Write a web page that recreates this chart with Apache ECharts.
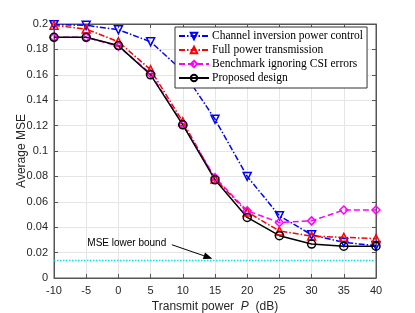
<!DOCTYPE html>
<html><head><meta charset="utf-8">
<script src="https://cdn.jsdelivr.net/npm/echarts@6/dist/echarts.min.js"></script>
<style>html,body{margin:0;padding:0;background:#fff}#c{width:415px;height:313px}</style>
</head><body><div id="c"></div>
<script>
const powerDb = [-10, -5, 0, 5, 10, 15, 20, 25, 30, 35, 40];
const channelInversion = [0.1995, 0.199, 0.1955, 0.186, 0.163, 0.125, 0.080, 0.049, 0.034, 0.028, 0.0255];
const fullPower = [0.199, 0.196, 0.186, 0.164, 0.123, 0.078, 0.052, 0.037, 0.033, 0.032, 0.031];
const benchmark = [0.1895, 0.1895, 0.1825, 0.161, 0.121, 0.079, 0.053, 0.0437, 0.045, 0.0535, 0.0535];
const proposed = [0.1895, 0.1895, 0.183, 0.160, 0.1206, 0.0773, 0.0477, 0.0333, 0.0267, 0.025, 0.025];
const lowerBound = 0.0138;
const seriesNames = ['Channel inversion power control', 'Full power transmission', 'Benchmark ignoring CSI errors', 'Proposed design'];
const annotationText = 'MSE lower bound';

const pairs = arr => powerDb.map((x, i) => [x, arr[i]]);
const axisColor = '#555';
const sans = 'Liberation Sans';
const chart = echarts.init(document.getElementById('c'));
const hidden = {show: false};
function mk(name, data, color, symbol, rot, dash) {
  return {
    name, type: 'line', data: pairs(data), symbol, symbolSize: 8, symbolRotate: rot,
    showSymbol: true,
    lineStyle: {color, width: 1.5, type: dash},
    itemStyle: {color: 'rgba(255,255,255,0)', borderColor: color, borderWidth: 1.5},
    emphasis: {disabled: true}, z: 3, animation: false
  };
}
const axLine = {show: true, onZero: false, lineStyle: {color: axisColor}};
const axTick = {show: true, inside: true, length: 4, lineStyle: {color: axisColor}};
chart.setOption({
  animation: false,
  grid: {left: 54, right: 39, top: 24, bottom: 35, show: true, borderColor: axisColor, borderWidth: 1,
         containLabel: false, outerBoundsMode: 'none'},
  legend: {
    data: seriesNames, orient: 'vertical', left: 175, top: 27, itemWidth: 30, itemHeight: 8, itemGap: 0,
    padding: [2, 4, 3, 3], backgroundColor: '#fff', borderColor: '#333', borderWidth: 1,
    textStyle: {fontFamily: 'Liberation Serif', fontSize: 11.5, lineHeight: 14, color: '#000', padding: [0, 0, 0, -2]}
  },
  xAxis: [{
    type: 'value', min: -10, max: 40, interval: 5,
    axisLine: axLine, axisTick: axTick,
    splitLine: {show: true, lineStyle: {color: '#e5e5e5'}},
    axisLabel: {fontFamily: sans, fontSize: 11, color: '#262626', margin: 7},
    name: '{a|Transmit power  }{i|P}{a|  (dB)}', nameLocation: 'middle', nameGap: 20,
    nameTextStyle: {rich: {a: {fontFamily: sans, fontSize: 12, color: '#262626'}, i: {fontFamily: sans, fontSize: 12, fontStyle: 'italic', color: '#262626'}}}
  }, {
    type: 'value', position: 'top', min: -10, max: 40, interval: 5,
    axisLine: axLine, axisTick: axTick,
    axisLabel: hidden, splitLine: hidden
  }],
  yAxis: [{
    type: 'value', min: 0, max: 0.2, interval: 0.02,
    axisLine: axLine, axisTick: axTick,
    splitLine: {show: true, lineStyle: {color: '#e5e5e5'}},
    axisLabel: {fontFamily: sans, fontSize: 11, color: '#262626', margin: 6,
      formatter: v => String(Math.round(v * 100) / 100)},
    name: 'Average MSE', nameLocation: 'middle', nameGap: 26, nameMoveOverlap: false,
    nameTextStyle: {fontFamily: sans, fontSize: 12, color: '#262626'}
  }, {
    type: 'value', position: 'right', min: 0, max: 0.2, interval: 0.02,
    axisLine: axLine, axisTick: axTick,
    axisLabel: hidden, splitLine: hidden
  }],
  series: [
    {name: 'lower', type: 'line', data: [[powerDb[0], lowerBound], [powerDb[powerDb.length - 1], lowerBound]],
     symbol: 'none', lineStyle: {color: '#00e5ee', width: 1.5, type: [1.5, 1.5]}, z: 2, silent: true},
    mk(seriesNames[0], channelInversion, '#0000ff', 'triangle', 180, [6, 2, 1.5, 2]),
    mk(seriesNames[1], fullPower, '#ff0000', 'triangle', 0, [6, 2, 1.5, 2]),
    mk(seriesNames[2], benchmark, '#ff00ff', 'diamond', 0, [6, 3]),
    mk(seriesNames[3], proposed, '#000000', 'circle', 0, 'solid')
  ]
});
const tip = chart.convertToPixel({xAxisIndex: 0, yAxisIndex: 0}, [14.6, 0.0152]);
const tail = chart.convertToPixel({xAxisIndex: 0, yAxisIndex: 0}, [8.3, 0.0262]);
const txt = chart.convertToPixel({xAxisIndex: 0, yAxisIndex: 0}, [1.3, 0.0277]);
const ang = Math.atan2(tip[1] - tail[1], tip[0] - tail[0]);
const L = 9, W = 3.5;
const base = [tip[0] - L * Math.cos(ang), tip[1] - L * Math.sin(ang)];
const p1 = [base[0] + W * Math.sin(ang), base[1] - W * Math.cos(ang)];
const p2 = [base[0] - W * Math.sin(ang), base[1] + W * Math.cos(ang)];
chart.setOption({
  graphic: [
    {type: 'text', x: txt[0], y: txt[1], style: {text: annotationText, fontFamily: sans, fontSize: 10, fill: '#000', align: 'center', verticalAlign: 'middle'}, z: 10},
    {type: 'line', shape: {x1: tail[0], y1: tail[1], x2: base[0], y2: base[1]}, style: {stroke: '#000', lineWidth: 1}, z: 10},
    {type: 'polygon', shape: {points: [tip, p1, p2]}, style: {fill: '#000'}, z: 10}
  ]
});
</script></body></html>
